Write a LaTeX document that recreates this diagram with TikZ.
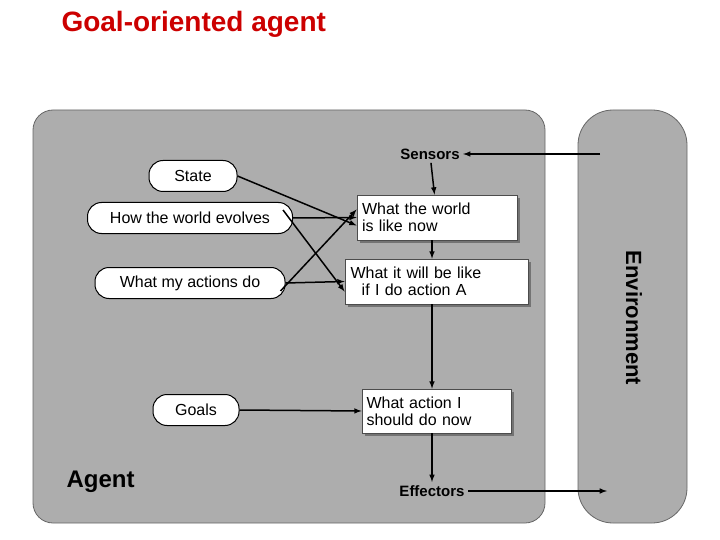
\documentclass[tikz,border=0pt]{standalone}
\usepackage{fontspec}
\setmainfont{Liberation Sans}
\begin{document}
\begin{tikzpicture}[x=1pt,y=-1pt,
 oval/.style={draw,fill=white,rounded corners=14pt,line width=1pt,font=\fontsize{16}{17}\selectfont,inner sep=0pt,minimum height=31},
 box/.style={draw=black!70,fill=white,line width=0.8pt,font=\fontsize{16}{17}\selectfont,align=left,inner sep=0pt},
 arr/.style={-latex,line width=1.5pt}]
\useasboundingbox (0,0) rectangle (720,540);
\node[anchor=west,text=red!80!black,font=\fontsize{28}{30}\bfseries\selectfont] (t) at (58,24) {Goal-oriented agent};
\draw[fill=black!32,rounded corners=20pt,line width=0.8pt,draw=black!60] (33,110) rectangle (545,523);
\draw[fill=black!32,rounded corners=35pt,line width=0.8pt,draw=black!60] (578,110) rectangle (687,523);
\node[rotate=-90,font=\fontsize{22}{24}\bfseries\selectfont] (env) at (634,318) {Environment};
\node[anchor=west,font=\fontsize{24}{26}\bfseries\selectfont] (ag) at (63,482) {Agent};
\node[font=\fontsize{15}{16}\bfseries\selectfont] (sen) at (430,154) {Sensors};
\node[font=\fontsize{15}{16}\bfseries\selectfont] (eff) at (432,491) {Effectors};
\coordinate (envin) at (600,154);
\coordinate (envout) at (607,491);
\node[oval,minimum width=88] (st) at (193,176) {State};
\node[oval,minimum width=205] (hw) at (190,218) {How the world evolves};
\node[oval,minimum width=190] (wm) at (190,283) {What my actions do};
\node[oval,minimum width=86] (go) at (196,410) {Goals};
\fill[black!55] (360,198) rectangle (520,243);
\node[box,minimum width=160,minimum height=45,text width=150] (b1) at (437,217.5) {What the world\\is like now};
\fill[black!55] (348,262) rectangle (531,307);
\node[box,minimum width=183,minimum height=45,text width=172] (b2) at (436.5,281.5) {What it will be like\\\hspace*{0.7em}if I do action A};
\fill[black!55] (365,392) rectangle (514,436);
\node[box,minimum width=149,minimum height=44,text width=140] (b3) at (436.5,411) {What action I\\should do now};
\draw[arr] (envin) -- (sen);
\draw[arr] (sen) -- (b1);
\draw[arr] (b1.south-|432,0) -- (b2.north-|432,0);
\draw[arr] (b2.south-|432,0) -- (b3.north-|432,0);
\draw[arr] (b3.south-|432,0) -- (eff);
\draw[arr] (eff) -- (envout);
\draw[arr] (st.east) -- ([yshift=-8]b1.west);
\draw[arr] (hw.east) -- (b1.west);
\draw[arr] ([xshift=-10,yshift=8]hw.east) -- ([yshift=-10]b2.west);
\draw[arr] ([xshift=-5,yshift=-8]wm.east) -- ([yshift=8]b1.west);
\draw[arr] (wm.east) -- (b2.west);
\draw[arr] (go.east) -- (b3.west);
\end{tikzpicture}
\end{document}
